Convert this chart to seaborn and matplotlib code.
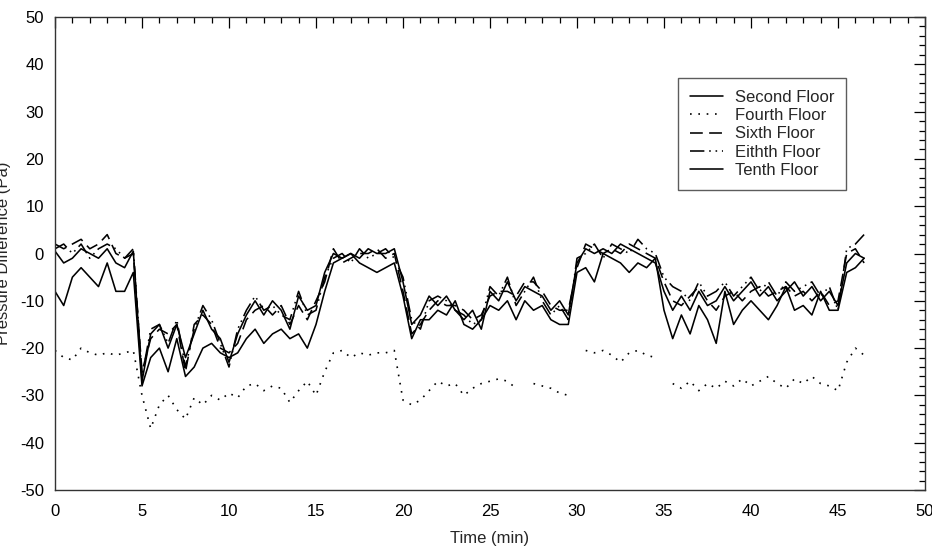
import numpy as np
import pandas as pd
import matplotlib
matplotlib.use("Agg")
import matplotlib.pyplot as plt
import seaborn as sns
from matplotlib.ticker import MultipleLocator

# ---------------- data ----------------
time_min = [i * 0.5 for i in range(94)]

second_floor = [0.5, -2, -1, 1, 0, -1, 1, -2, -3, 0.5,
                -27, -17, -15, -20, -15, -22, -17, -12, -16, -18,
                -23, -17, -13, -10, -13, -10, -12, -16, -9, -12,
                -11, -4, 0, -1, 0, -1, 1, 0, 0, 1,
                -6, -15, -13, -9, -11, -9, -12, -14, -12, -16,
                -8, -10, -6, -10, -7, -8, -9, -12, -10, -13,
                -2, 1, 0, 1, 0, 2, 1, 0, -1, -2,
                -8, -12, -9, -12, -8, -11, -10, -7, -10, -8,
                -6, -9, -7, -10, -8, -6, -9, -7, -10, -8,
                -11, -2, 0, -1]

fourth_floor = [-20.5, -22, -22.5, -20, -21, -21.5, -21, -21.5, -21, -20.5,
                -30, -37, -32, -30, -33, -35, -30.5, -32, -30, -31,
                -29.5, -30.5, -28, -27.5, -29, -28, -28.5, -31.5, -29, -27,
                -30, -25, -21, -20.5, -22, -21, -21.5, -21, -21, -20.5,
                -31, -32, -31, -29, -27, -28, -27.5, -30, -28.5, -27.5,
                -27, -26.5, -27, -28.5, np.nan, -27.5, -28, -28.5, -29.5, -30,
                np.nan, -20.5, -21, -20.5, -21.5, -23, -21, -20.5, -21.5, -22,
                np.nan, -27.5, -28.5, -27, -29, -27.5, -28.5, -27, -28, -26.5,
                -28, -27, -26, -27.5, -28.5, -26.5, -27.5, -26, -27.5, -28,
                -29, -23, -20, -21.5]

sixth_floor = [2, 1, 2, 3, 1, 2, 4, 0, -1, 0,
               -25, -18, -16, -17, -15, -25, -15, -13, -15, -20,
               -21, -19, -14, -12, -11, -13, -11, -15, -11, -14,
               -10, -6, 1, -2, -1, 0, 0, 1, -1, 0,
               -8, -17, -15, -12, -10, -11, -11, -12, -14, -13,
               -9, -8, -8, -9, -6, -6, -8, -11, -12, -12,
               -3, 2, 1, 0, 1, 0, 2, 1, 0, -1,
               -6, -10, -11, -9, -7, -10, -12, -9, -8, -10,
               -8, -7, -9, -8, -7, -9, -8, -10, -8, -11,
               -10, 0, 1, -2]

eighth_floor = [1, 2, 0, 2, -1, 1, 2, 1, -1, 1,
                -26, -16, -15, -19, -14, -24, -16, -11, -14, -19,
                -24, -16, -12, -9, -12, -11, -13, -14, -8, -13,
                -12, -5, -1, 0, -2, 1, -1, 0, 1, -1,
                -5, -14, -16, -10, -9, -10, -12, -13, -15, -14,
                -7, -9, -5, -11, -8, -5, -10, -13, -11, -14,
                -1, 0, 2, -1, 2, 1, 0, 3, 1, 0,
                -5, -7, -8, -10, -6, -9, -8, -6, -9, -7,
                -5, -8, -6, -9, -6, -8, -7, -6, -9, -7,
                -12, 1, 2, 4]

tenth_floor = [-8, -11, -5, -3, -5, -7, -2, -8, -8, -4,
               -28, -22, -20, -25, -18, -26, -24, -20, -19, -21,
               -22, -21, -18, -16, -19, -17, -16, -18, -17, -20,
               -15, -8, -2, -1, 0, -2, -3, -4, -3, -2,
               -9, -18, -14, -14, -12, -13, -10, -15, -16, -14,
               -11, -12, -10, -14, -10, -12, -11, -14, -15, -15,
               -4, -3, -6, 0, -1, -2, -4, -2, -3, -1,
               -12, -18, -13, -17, -11, -14, -19, -8, -15, -12,
               -10, -12, -14, -11, -7, -12, -11, -13, -8, -12,
               -12, -4, -3, -1]

series_names = ["Second Floor", "Fourth Floor", "Sixth Floor", "Eithth Floor", "Tenth Floor"]
series_values = [second_floor, fourth_floor, sixth_floor, eighth_floor, tenth_floor]
x_ticks = [0, 5, 10, 15, 20, 25, 30, 35, 40, 45, 50]
y_ticks = [-50, -40, -30, -20, -10, 0, 10, 20, 30, 40, 50]

# ---------------- style ----------------
sns.set_theme(style="white")
plt.rcParams["font.family"] = ["Liberation Sans", "DejaVu Sans"]
plt.rcParams["font.size"] = 12
plt.rcParams["axes.unicode_minus"] = False

styles = {
    "Second Floor": dict(linestyle="-", linewidth=1.15),
    "Fourth Floor": dict(linestyle=(0, (1, 4)), linewidth=1.2),
    "Sixth Floor": dict(linestyle=(0, (8, 4)), linewidth=1.15),
    "Eithth Floor": dict(linestyle=(0, (9, 3, 1, 3, 1, 3)), linewidth=1.15),
    "Tenth Floor": dict(linestyle="-", linewidth=1.15),
}

fig = plt.figure(figsize=(9.32, 5.5), dpi=100)
ax = fig.add_axes([55 / 932, 1 - 490 / 550, 870 / 932, 473 / 550])

for name, vals in zip(series_names, series_values):
    df = pd.DataFrame({"t": time_min, "v": vals})
    # split into contiguous segments at missing values
    valid = df["v"].notna()
    grp = df["v"].isna().cumsum()
    first = True
    for _, seg in df[valid].groupby(grp[valid]):
        sns.lineplot(data=seg, x="t", y="v", ax=ax, color="black",
                     estimator=None, sort=False,
                     label=name if first else None, **styles[name])
        first = False

ax.set_xlim(0, 50)
ax.set_ylim(-50, 50)
ax.set_xticks(x_ticks)
ax.set_yticks(y_ticks)
ax.xaxis.set_minor_locator(MultipleLocator(1))
ax.yaxis.set_minor_locator(MultipleLocator(2))
ax.tick_params(which="both", direction="in", top=True, right=True,
               colors="black", labelsize=12, width=0.9)
ax.tick_params(which="major", length=8)
ax.tick_params(axis="x", which="major", pad=10)
ax.tick_params(axis="y", which="major", pad=8)
ax.tick_params(which="minor", length=4.5)
for sp in ax.spines.values():
    sp.set_color("#333333")
    sp.set_linewidth(1.0)

ax.set_xlabel("Time (min)", fontsize=12, labelpad=9)
ax.set_ylabel("Pressure Difference (Pa)", fontsize=12)
ax.yaxis.set_label_coords(-0.050, 0.5)

leg = ax.legend(loc="upper left", bbox_to_anchor=(0.716, 0.871), borderaxespad=0,
                frameon=True, fancybox=False, edgecolor="#333333",
                handlelength=2.0, labelspacing=0.2, borderpad=0.7,
                handletextpad=0.7, fontsize=12)
leg.get_frame().set_linewidth(1.0)

fig.savefig("out.png", dpi=100)
